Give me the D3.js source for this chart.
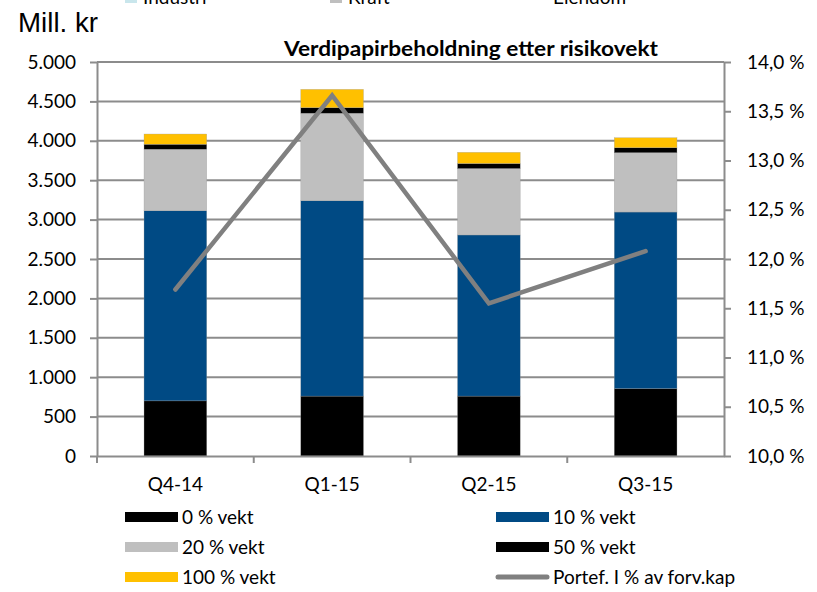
<!DOCTYPE html>
<html><head><meta charset="utf-8">
<script src="https://cdn.jsdelivr.net/npm/d3@7"></script>
<style>body{margin:0;background:#fff}svg{display:block}</style>
</head><body>
<svg id="c" width="817" height="592"></svg>
<script>
const categories = ["Q4-14","Q1-15","Q2-15","Q3-15"];
const seriesNames = ["0 % vekt","10 % vekt","20 % vekt","50 % vekt","100 % vekt"];
const w0 = [700, 760, 760, 855];
const w10 = [2413, 2480, 2045, 2241];
const w20 = [780, 1110, 843, 753];
const w50 = [63, 70, 64, 63];
const w100 = [130, 233, 142, 127];
const portef = [11.69, 13.66, 11.55, 12.08];
const lineName = "Portef. I % av forv.kap";
const leftTicks = [0,500,1000,1500,2000,2500,3000,3500,4000,4500,5000];
const rightTicks = [10,10.5,11,11.5,12,12.5,13,13.5,14];
const topLegend = ["Industri","Kraft","Eiendom"];
const title = "Verdipapirbeholdning etter risikovekt";
const colors = ["#000000","#004A84","#BFBFBF","#000000","#FFC000"];
const topColors = ["#C9E6EC","#BFBFBF","#FFFFFF"];

const svg = d3.select("#c");
const F = "Lato, 'Open Sans', sans-serif";
const L = 97, R = 724, T = 62, B = 456;
const x = d3.scaleBand().domain(categories).range([L,R]).paddingInner(0.6).paddingOuter(0.3);
const xb = d3.scaleBand().domain(categories).range([L,R]);
const y = d3.scaleLinear().domain([0,5000]).range([B,T]);
const y2 = d3.scaleLinear().domain([10,14]).range([B,T]);

// gridlines
svg.append("g").selectAll("line").data(leftTicks.slice(1)).join("line")
  .attr("x1",L).attr("x2",R).attr("y1",d=>y(d)).attr("y2",d=>y(d))
  .attr("stroke","#8C8C8C").attr("stroke-width",2);

// stacked bars
const rows = categories.map((c,i)=>({cat:c, s0:w0[i], s1:w10[i], s2:w20[i], s3:w50[i], s4:w100[i]}));
const stack = d3.stack().keys(["s0","s1","s2","s3","s4"])(rows);
svg.append("g").selectAll("g").data(stack).join("g").attr("fill",(d,i)=>colors[i])
  .selectAll("rect").data(d=>d).join("rect")
  .attr("x",d=>x(d.data.cat)).attr("width",x.bandwidth())
  .attr("y",d=>y(d[1])).attr("height",d=>y(d[0])-y(d[1]))
  .attr("stroke","#9a9a9a").attr("stroke-width",0.5).attr("stroke-opacity",0.6);

// axes
const gl = svg.append("g").attr("transform",`translate(${L},0)`)
  .call(d3.axisLeft(y).tickValues(leftTicks).tickSize(7).tickSizeOuter(0).tickPadding(14)
    .tickFormat(d=>d3.format(",")(d).replace(/,/g,".")));
const gr = svg.append("g").attr("transform",`translate(${R},0)`)
  .call(d3.axisRight(y2).tickValues(rightTicks).tickSize(7).tickSizeOuter(0).tickPadding(16)
    .tickFormat(d=>d3.format(".1f")(d).replace(".",",")+" %"));
const gb = svg.append("g").attr("transform",`translate(0,${B})`)
  .call(d3.axisBottom(xb).tickSize(0).tickPadding(22));
gb.selectAll(".tick").append("line").attr("x1",xb.bandwidth()/2).attr("x2",xb.bandwidth()/2)
  .attr("y1",0).attr("y2",7).attr("stroke","#8C8C8C").attr("stroke-width",2)
  .filter((d,i)=>i===categories.length-1).remove();
gb.select(".tick").append("line").attr("x1",-xb.bandwidth()/2).attr("x2",-xb.bandwidth()/2)
  .attr("y1",0).attr("y2",7).attr("stroke","#8C8C8C").attr("stroke-width",2);
[gl,gr,gb].forEach(g=>{
  g.selectAll("path.domain").attr("stroke","#8C8C8C").attr("stroke-width",2);
  g.selectAll(".tick line").attr("stroke","#8C8C8C").attr("stroke-width",2);
  g.selectAll("text").attr("font-family",F).attr("font-size",19).attr("fill","#000");
});

// line
svg.append("path").datum(portef)
  .attr("d",d3.line().x((d,i)=>xb(categories[i])+xb.bandwidth()/2).y(d=>y2(d)))
  .attr("fill","none").attr("stroke","#808080").attr("stroke-width",4.5)
  .attr("stroke-linecap","round").attr("stroke-linejoin","miter");

// title & unit
svg.append("text").attr("x",471).attr("y",56).attr("text-anchor","middle")
  .attr("font-family",F).attr("font-weight","bold").attr("font-size",20)
  .attr("textLength",374).attr("lengthAdjust","spacingAndGlyphs").text(title);
svg.append("text").attr("x",18).attr("y",32).attr("font-family","'Liberation Sans Narrow','Liberation Sans',Arial,sans-serif")
  .attr("font-size",27).attr("textLength",80).attr("lengthAdjust","spacingAndGlyphs").text("Mill. kr");

// top (cut) legend
const tlx = [125, 330, 535];
topLegend.forEach((t,i)=>{
  svg.append("rect").attr("x",tlx[i]).attr("y",-9).attr("width",12).attr("height",12).attr("fill",topColors[i]);
  svg.append("text").attr("x",tlx[i]+18).attr("y",4).attr("font-family",F).attr("font-size",19).text(t);
});

// bottom legend
const leg = [
  {n:seriesNames[0], c:colors[0], x:125, y:517},
  {n:seriesNames[1], c:colors[1], x:496, y:517},
  {n:seriesNames[2], c:colors[2], x:125, y:547},
  {n:seriesNames[3], c:colors[3], x:496, y:547},
  {n:seriesNames[4], c:colors[4], x:125, y:577},
];
leg.forEach(d=>{
  svg.append("rect").attr("x",d.x).attr("y",d.y-5).attr("width",53).attr("height",10).attr("fill",d.c);
  svg.append("text").attr("x",d.x+57).attr("y",d.y).attr("dy","0.35em").attr("font-family",F).attr("font-size",19).text(d.n);
});
svg.append("line").attr("x1",498).attr("x2",547).attr("y1",577).attr("y2",577)
  .attr("stroke","#808080").attr("stroke-width",5).attr("stroke-linecap","round");
svg.append("text").attr("x",553).attr("y",577).attr("dy","0.35em").attr("font-family",F).attr("font-size",19).text(lineName);
</script>
</body></html>
